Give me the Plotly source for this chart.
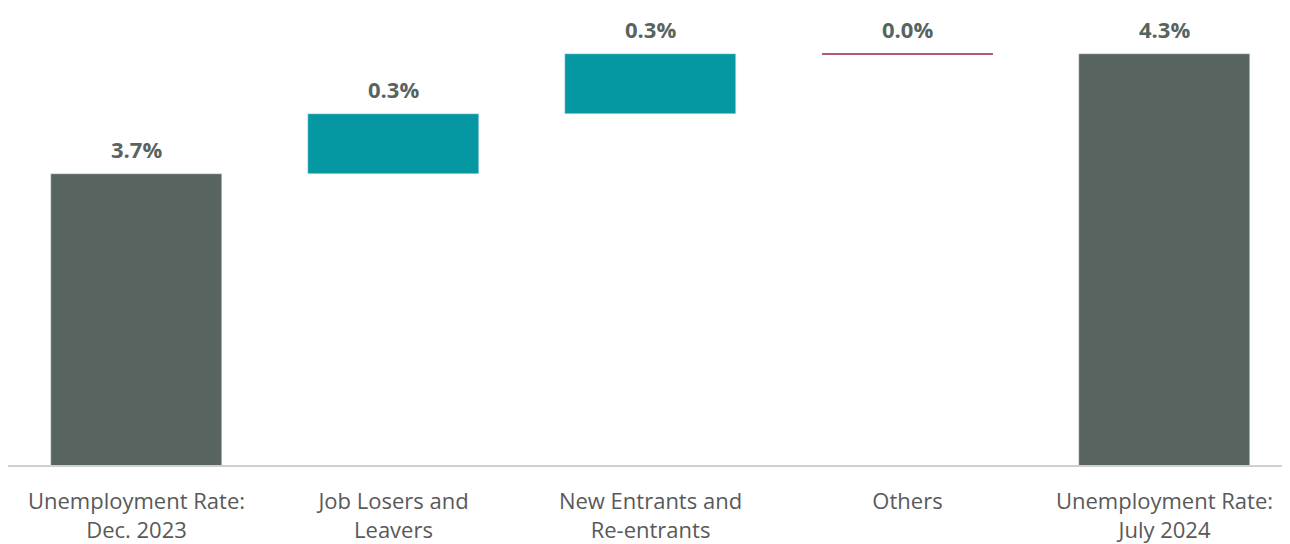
import plotly.graph_objects as go

categories = ["Unemployment Rate:<br>Dec. 2023", "Job Losers and<br>Leavers",
              "New Entrants and<br>Re-entrants", "Others", "Unemployment Rate:<br>July 2024"]
values = [3.7, 0.3, 0.3, 0.0, 4.3]
kinds = ["total", "delta", "delta", "delta", "total"]
labels = ["3.7%", "0.3%", "0.3%", "0.0%", "4.3%"]

GRAY = "#58645f"
TEAL = "#0598a3"
MAROON = "#9e1f55"

bases, heights, colors = [], [], []
running = 0.0
for v, k in zip(values, kinds):
    if k == "total":
        bases.append(0)
        heights.append(v)
        colors.append(GRAY)
        running = v
    else:
        bases.append(running)
        heights.append(v)
        colors.append(TEAL)
        running += v
tops = [b + h for b, h in zip(bases, heights)]

fig = go.Figure()
fig.add_trace(go.Bar(x=categories, y=heights, base=bases, marker_color=colors,
                     width=0.665, hoverinfo="skip"))

for i, (v, k) in enumerate(zip(values, kinds)):
    if k == "delta" and v == 0:
        fig.add_shape(type="line", xref="x", yref="y",
                      x0=i - 0.3325, x1=i + 0.3325, y0=tops[i], y1=tops[i],
                      line=dict(color=MAROON, width=1.5))

for c, t, lab in zip(categories, tops, labels):
    fig.add_annotation(x=c, y=t, text="<b>" + lab + "</b>", showarrow=False,
                       yanchor="bottom", yshift=8,
                       font=dict(family="Open Sans, Noto Sans, sans-serif", size=22, color=GRAY))

fig.update_layout(
    width=1290, height=544,
    margin=dict(l=0, r=5, t=2, b=87),
    plot_bgcolor="white", paper_bgcolor="white",
    showlegend=False, bargap=0,
    font=dict(family="Open Sans, Noto Sans, sans-serif"),
)
fig.update_xaxes(range=[-0.5, 4.5], showline=True, linecolor="#d0d0d0", linewidth=2,
                 ticks="", tickfont=dict(size=22, color="#595959"), showgrid=False,
                 ticklabelstandoff=16)
fig.update_yaxes(range=[2.245, 2.245 + 455 / 200], visible=False, showgrid=False, zeroline=False)

fig.write_html("out.html")
